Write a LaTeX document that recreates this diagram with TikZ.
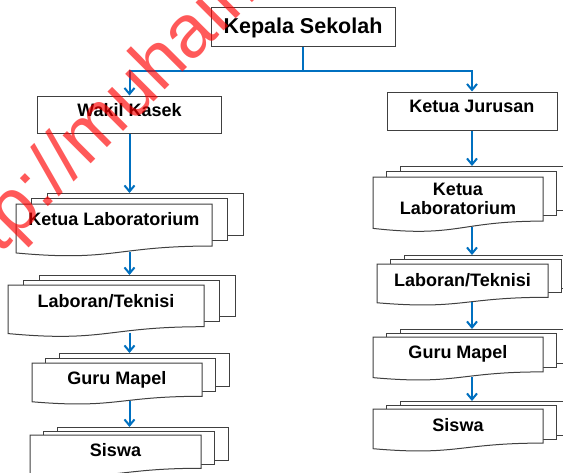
\documentclass[tikz,border=0pt]{standalone}
\usepackage{fontspec}
\setmainfont{Liberation Sans}
\usetikzlibrary{arrows.meta,calc}
\definecolor{linkblue}{RGB}{0,112,192}
\definecolor{edge}{RGB}{64,64,64}
\tikzset{
  page/.style={draw=edge, line width=1pt, fill=white},
  link/.style={draw=linkblue, line width=2pt, -{Straight Barb[length=6pt,width=10pt]}},
  lbl/.style={font=\bfseries\fontsize{18}{19}\selectfont, inner sep=0pt, text height=12.9pt, text depth=0pt},
  lbltwo/.style={font=\bfseries\fontsize{18}{19}\selectfont, inner sep=0pt, align=center},
  officebox/.style={draw=edge, line width=1pt, fill=white, inner sep=0pt,
    font=\bfseries\fontsize{18}{19}\selectfont, text height=12.9pt, text depth=9pt},
}
% multi-document stack: name, front x, front y, width, height, layer dx, layer dy, label y, label
\newcommand\docstack[9]{%
  \draw[page] ({#2+2*#6},{#3-2*#7}) rectangle ++(#4,{0.802*#5});
  \coordinate (#1-top) at ({#2+2*#6+#4/2},{#3-2*#7});
  \draw[page] ({#2+#6},{#3-#7}) rectangle ++(#4,{0.802*#5});
  \draw[page] (#2,#3) -- ++(#4,0) -- ++(0,{0.802*#5})
    .. controls ({#2+#4/2},{#3+0.802*#5}) and ({#2+#4/2},{#3+1.1075*#5}) .. ({#2},{#3+0.934*#5})
    coordinate[pos=0.45] (#1-w) -- cycle;
  \node[lbl] (#1) at ({#2+#4/2},#8) {#9};
}
\begin{document}
\begin{tikzpicture}[x=1pt,y=-1pt]
\useasboundingbox (0,0) rectangle (563,472);
\clip (0,0) rectangle (563,472);
\fill[white] (0,0) rectangle (563,472);

\coordinate (colL) at (129.5,0);
\coordinate (colR) at (472,0);

% top boxes
\node[officebox, font=\bfseries\fontsize{21.5}{22}\selectfont, text height=15.4pt, text depth=1pt,
      minimum width=184pt, minimum height=39pt] (ks) at (303,26.5) {Kepala Sekolah};
\node[officebox, minimum width=184pt, minimum height=37pt] (wk) at (129.5,114.5) {Wakil Kasek};
\node[officebox, minimum width=170pt, minimum height=38pt] (kj) at (472,111) {Ketua Jurusan};

% left column stacks
\docstack{L1}{16}{204}{196}{52.4}{15.5}{5.5}{219}{Ketua Laboratorium}
\docstack{L2}{8}{285}{196}{52}{15.5}{5}{301}{Laboran/Teknisi}
\docstack{L3}{32}{363}{170}{41.5}{13.5}{5}{378}{Guru Mapel}
\docstack{L4}{30}{435}{171}{41.5}{13.5}{4}{450}{Siswa}

% right column stacks
\docstack{R1}{373}{177}{170}{55}{13.5}{5.5}{199}{}
\node[lbltwo] (R1t) at (458,199.3) {Ketua\\Laboratorium};
\docstack{R2}{377}{264}{171}{41.5}{13.5}{4.5}{280}{Laboran/Teknisi}
\docstack{R3}{373}{337}{170}{43.5}{13.5}{4}{352}{Guru Mapel}
\docstack{R4}{373}{409}{170}{42.5}{13.5}{4}{425}{Siswa}

% connectors
\coordinate (bus) at (303,71);
\draw[linkblue, line width=2pt] (ks.south) -- (bus);
\draw[link] (bus) -| (wk.north);
\draw[link] (bus) -| (kj.north);

\draw[link] (wk.south) -- (wk.south |- L1-top);
\draw[link] (L1-w -| colL) -- (L2-top -| colL);
\draw[link] (L2-w -| colL) -- (L3-top -| colL);
\draw[link] (L3-w -| colL) -- (L4-top -| colL);

\draw[link] (kj.south) -- (kj.south |- R1-top);
\draw[link] (R1-w -| colR) -- (R2-top -| colR);
\draw[link] (R2-w -| colR) -- (R3-top -| colR);
\draw[link] (R3-w -| colR) -- (R4-top -| colR);

% watermark
\node[font=\fontsize{75}{75}\selectfont, text=red, opacity=0.65, rotate=45,
      anchor=base west, inner sep=0pt] (wm) at (-45,300) {http://muhaimin};
\end{tikzpicture}
\end{document}
